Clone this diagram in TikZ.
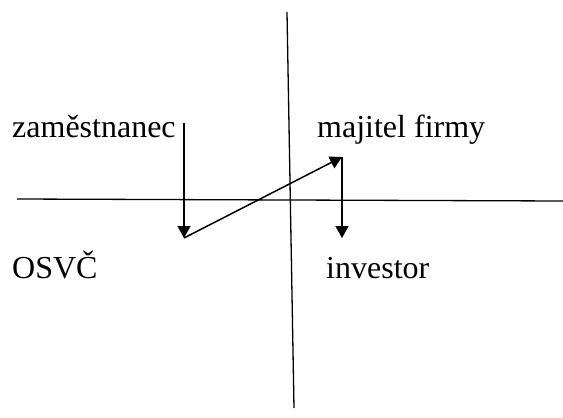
\documentclass[tikz,border=0pt]{standalone}
\usepackage{fontspec}
\setmainfont{Liberation Serif}
\usetikzlibrary{arrows.meta}

\begin{document}
\begin{tikzpicture}[
    x=1pt, y=-1pt,
    lbl/.style={anchor=base west, inner sep=0pt, font=\fontsize{32}{32}\selectfont},
    axis/.style={line width=1.3pt},
    arr/.style={-{Triangle[length=12pt,width=13pt]}, line width=1.5pt}
]
\useasboundingbox (0,0) rectangle (563,418);
% axes
\coordinate (vtop) at (287,12);
\coordinate (vbot) at (294,408);
\coordinate (hleft) at (17,199);
\coordinate (hright) at (563,201);
\draw[axis] (vtop) -- (vbot);
\draw[axis] (hleft) -- (hright);
% labels
\node[lbl] (zam) at (12,137) {zaměstnanec};
\node[lbl] (maj) at (317,137) {majitel firmy};
\node[lbl] (osvc) at (12,278) {OSVČ};
\node[lbl] (inv) at (326,278) {investor};
% path
\coordinate (p1) at (184,123);
\coordinate (p2) at (184,238);
\coordinate (p3) at (342,157);
\coordinate (p4) at (342,238);
\draw[arr] (p1) -- (p2);
\draw[arr] (p2) -- (p3);
\draw[arr] (p3) -- (p4);
\end{tikzpicture}
\end{document}
